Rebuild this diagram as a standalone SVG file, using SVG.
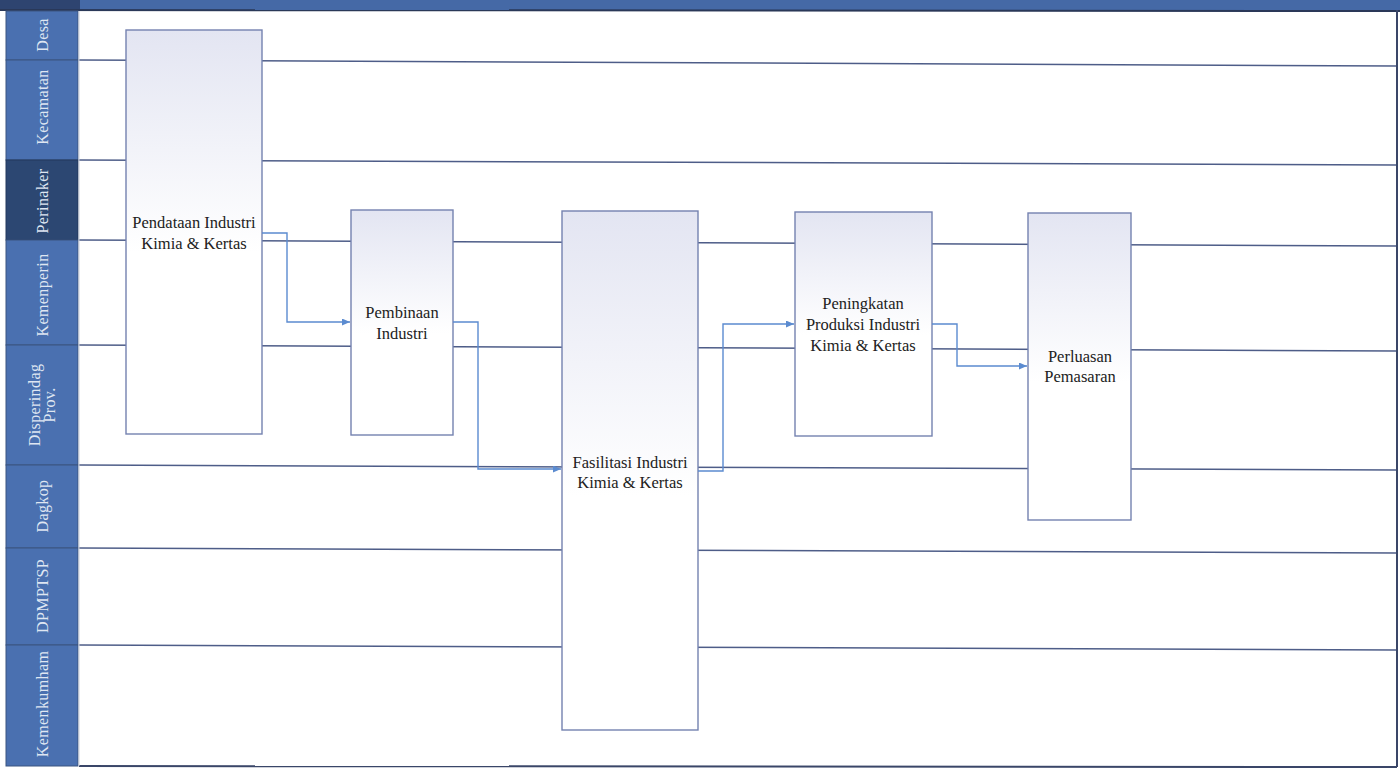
<svg xmlns="http://www.w3.org/2000/svg" width="1400" height="768" viewBox="0 0 1400 768">
<style>
.lane{stroke:#4e5d88;stroke-width:1.5;fill:none}
.cell{fill:#4a70b0;stroke:#3a5480;stroke-width:1}
.cellhl{fill:#2c4772;stroke:#23395c;stroke-width:1}
.lbl{font-family:"Liberation Serif","Times New Roman",serif;font-size:16px;letter-spacing:0.4px;fill:#dfe6f2;text-anchor:middle}
.box{fill:url(#bg);stroke:#7482b0;stroke-width:1.4}
.txt{font-family:"Liberation Serif","Times New Roman",serif;font-size:16.5px;fill:#222;text-anchor:middle}
.conn{stroke:#5b8bd0;stroke-width:1.4;fill:none}
</style>
<defs>
<linearGradient id="bg" x1="0" y1="0" x2="0" y2="1">
<stop offset="0" stop-color="#e3e5f2"/>
<stop offset="0.55" stop-color="#ffffff"/>
<stop offset="1" stop-color="#ffffff"/>
</linearGradient>
<marker id="ah" markerWidth="9" markerHeight="8" refX="8" refY="3.5" orient="auto" markerUnits="userSpaceOnUse">
<path d="M0,0 L8,3.5 L0,7 z" fill="#5b8bd0"/>
</marker>
</defs>
<rect x="0" y="0" width="1400" height="768" fill="#ffffff"/>
<!-- top band -->
<rect x="0" y="0" width="1400" height="10" fill="#4569a6"/>
<rect x="0" y="0" width="80" height="10" fill="#2e4470"/>
<line x1="0" y1="10" x2="1400" y2="11" stroke="#2a3858" stroke-width="2"/>
<!-- label column -->
<g id="lane-labels">
<rect class="cell" x="6" y="11" width="72" height="49"/>
<rect class="cell" x="6" y="60" width="72" height="100"/>
<rect class="cellhl" x="6" y="160" width="72" height="80"/>
<rect class="cell" x="6" y="240" width="72" height="105"/>
<rect class="cell" x="6" y="345" width="72" height="120"/>
<rect class="cell" x="6" y="465" width="72" height="83"/>
<rect class="cell" x="6" y="548" width="72" height="97"/>
<rect class="cell" x="6" y="645" width="72" height="121"/>
<text class="lbl" transform="translate(48,35) rotate(-90)">Desa</text>
<text class="lbl" transform="translate(48,107) rotate(-90)">Kecamatan</text>
<text class="lbl" transform="translate(48,201) rotate(-90)">Perinaker</text>
<text class="lbl" transform="translate(48,295) rotate(-90)">Kemenperin</text>
<text class="lbl" transform="translate(40,405) rotate(-90)">Disperindag</text>
<text class="lbl" transform="translate(55,405) rotate(-90)">Prov.</text>
<text class="lbl" transform="translate(48,506) rotate(-90)">Dagkop</text>
<text class="lbl" transform="translate(48,596) rotate(-90)">DPMPTSP</text>
<text class="lbl" transform="translate(48,704) rotate(-90)">Kemenkumham</text>
</g>
<!-- lane lines -->
<g id="lanes">
<line class="lane" x1="79" y1="60" x2="1397" y2="66"/>
<line class="lane" x1="79" y1="160" x2="1397" y2="165"/>
<line class="lane" x1="79" y1="240" x2="1397" y2="246"/>
<line class="lane" x1="79" y1="345" x2="1397" y2="351"/>
<line class="lane" x1="79" y1="465" x2="1397" y2="470"/>
<line class="lane" x1="79" y1="548" x2="1397" y2="553"/>
<line class="lane" x1="79" y1="645" x2="1397" y2="650"/>
<line x1="79" y1="766" x2="1397" y2="767" stroke="#3a4668" stroke-width="2"/>
<line x1="1397" y1="10" x2="1397" y2="767" stroke="#3a4668" stroke-width="2"/>
<line x1="79" y1="11" x2="79" y2="766" stroke="#c9cfdc" stroke-width="1"/>
</g>
<!-- nodes -->
<g id="n1">
<rect class="box" x="126" y="30" width="136" height="404"/>
<text class="txt" x="194" y="228">Pendataan Industri</text>
<text class="txt" x="194" y="249">Kimia &amp; Kertas</text>
</g>
<g id="n2">
<rect class="box" x="351" y="210" width="102" height="225"/>
<text class="txt" x="402" y="318">Pembinaan</text>
<text class="txt" x="402" y="339">Industri</text>
</g>
<g id="n3">
<rect class="box" x="562" y="211" width="136" height="519"/>
<text class="txt" x="630" y="468">Fasilitasi Industri</text>
<text class="txt" x="630" y="488">Kimia &amp; Kertas</text>
</g>
<g id="n4">
<rect class="box" x="795" y="212" width="137" height="224"/>
<text class="txt" x="863" y="309">Peningkatan</text>
<text class="txt" x="863" y="330">Produksi Industri</text>
<text class="txt" x="863" y="351">Kimia &amp; Kertas</text>
</g>
<g id="n5">
<rect class="box" x="1028" y="213" width="103" height="307"/>
<text class="txt" x="1080" y="362">Perluasan</text>
<text class="txt" x="1080" y="382">Pemasaran</text>
</g>
<!-- connectors -->
<g id="connectors">
<path class="conn" d="M262,233 H287 V322 H350" marker-end="url(#ah)"/>
<path class="conn" d="M453,322 H478 V469 H561" marker-end="url(#ah)"/>
<path class="conn" d="M698,471 H723 V324 H794" marker-end="url(#ah)"/>
<path class="conn" d="M932,324 H957 V366 H1027" marker-end="url(#ah)"/>
</g>
</svg>
